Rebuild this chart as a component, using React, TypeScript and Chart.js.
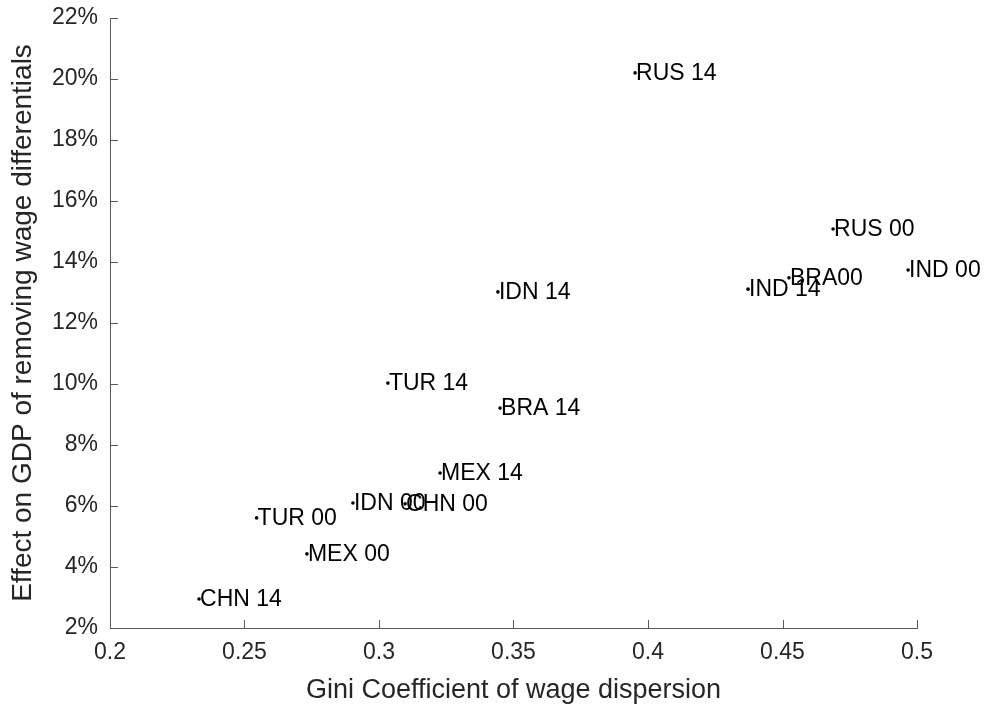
import React, { useEffect, useRef } from "react";
import { Chart, registerables } from "chart.js";

Chart.register(...registerables);

const labels = ["RUS 14", "RUS 00", "IND 00", "BRA00", "IND 14", "IDN 14", "TUR 14", "BRA 14", "MEX 14", "IDN 00", "CHN 00", "TUR 00", "MEX 00", "CHN 14"];
const gini = [0.3952, 0.4688, 0.4967, 0.4524, 0.4372, 0.3442, 0.3033, 0.345, 0.3227, 0.2903, 0.3097, 0.2545, 0.2732, 0.2331];
const gdpEffect = [20.2, 15.08, 13.74, 13.48, 13.11, 13.02, 10.03, 9.21, 7.08, 6.1, 6.07, 5.61, 4.43, 2.95];

const xTicks = [0.2, 0.25, 0.3, 0.35, 0.4, 0.45, 0.5];
const yTicks = [2, 4, 6, 8, 10, 12, 14, 16, 18, 20, 22];

const FONT = "'Liberation Sans', Arial, Helvetica, sans-serif";

const pointLabelPlugin = {
  id: "pointLabels",
  afterDatasetsDraw(chart: any) {
    const ctx = chart.ctx;
    const meta = chart.getDatasetMeta(0);
    ctx.save();
    ctx.font = `23px ${FONT}`;
    ctx.fillStyle = "#000";
    ctx.textAlign = "left";
    ctx.textBaseline = "middle";
    meta.data.forEach((el: any, i: number) => {
      ctx.fillText(labels[i], el.x + 1, el.y + 1);
    });
    ctx.restore();
  },
};

const innerTicksPlugin = {
  id: "innerTicks",
  afterDraw(chart: any) {
    const ctx = chart.ctx;
    const { left, bottom } = chart.chartArea;
    const xs = chart.scales.x;
    const ys = chart.scales.y;
    ctx.save();
    ctx.strokeStyle = "#5a5a5a";
    ctx.lineWidth = 1;
    ctx.beginPath();
    xTicks.forEach((v) => {
      const px = Math.round(xs.getPixelForValue(v)) + 0.5;
      ctx.moveTo(px, bottom);
      ctx.lineTo(px, bottom - 8);
    });
    yTicks.forEach((v) => {
      const py = Math.round(ys.getPixelForValue(v)) + 0.5;
      ctx.moveTo(left, py);
      ctx.lineTo(left + 8, py);
    });
    ctx.stroke();
    ctx.restore();
  },
};

export default function App() {
  const ref = useRef<HTMLCanvasElement>(null);
  useEffect(() => {
    if (!ref.current) return;
    const chart = new Chart(ref.current, {
      type: "scatter",
      data: {
        datasets: [
          {
            data: gini.map((g, i) => ({ x: g, y: gdpEffect[i] })),
            pointRadius: 1.8,
            pointBackgroundColor: "#000",
            pointBorderColor: "#000",
            pointBorderWidth: 0,
          },
        ],
      },
      options: {
        animation: false,
        responsive: false,
        maintainAspectRatio: false,
        layout: { padding: { top: 18, right: 72, left: 0, bottom: 0 } },
        plugins: { legend: { display: false }, tooltip: { enabled: false } },
        scales: {
          x: {
            type: "linear",
            min: 0.2,
            max: 0.5,
            afterBuildTicks: (s: any) => {
              s.ticks = xTicks.map((v) => ({ value: v }));
            },
            afterFit: (s: any) => {
              s.height = 76;
              s.paddingLeft = 0;
              s.paddingRight = 0;
            },
            grid: { display: false, drawTicks: false },
            border: { display: true, color: "#5a5a5a", width: 1 },
            ticks: {
              color: "#262626",
              font: { family: FONT, size: 23 },
              padding: 11,
              callback: (v: any) => String(Number(v)),
            },
            title: {
              display: true,
              text: "Gini Coefficient of wage dispersion",
              color: "#262626",
              font: { family: FONT, size: 27, lineHeight: 1.0 },
              padding: { top: 2, bottom: 0 },
            },
          },
          y: {
            type: "linear",
            min: 2,
            max: 22,
            afterBuildTicks: (s: any) => {
              s.ticks = yTicks.map((v) => ({ value: v }));
            },
            afterFit: (s: any) => {
              s.width = 110;
              s.paddingTop = 0;
              s.paddingBottom = 0;
            },
            grid: { display: false, drawTicks: false },
            border: { display: true, color: "#5a5a5a", width: 1 },
            ticks: {
              color: "#262626",
              font: { family: FONT, size: 23 },
              padding: 12,
              callback: (v: any) => `${v}%`,
            },
            title: {
              display: true,
              text: "Effect on GDP of removing wage differentials",
              color: "#262626",
              font: { family: FONT, size: 28 },
              padding: { top: 6, bottom: 0 },
            },
          },
        },
      },
      plugins: [pointLabelPlugin, innerTicksPlugin],
    });
    return () => chart.destroy();
  }, []);
  return (
    <div style={{ position: "fixed", left: 0, top: 0, width: 989, height: 704, background: "#fff" }}>
      <canvas ref={ref} width={989} height={704} style={{ display: "block", width: 989, height: 704 }} />
    </div>
  );
}
